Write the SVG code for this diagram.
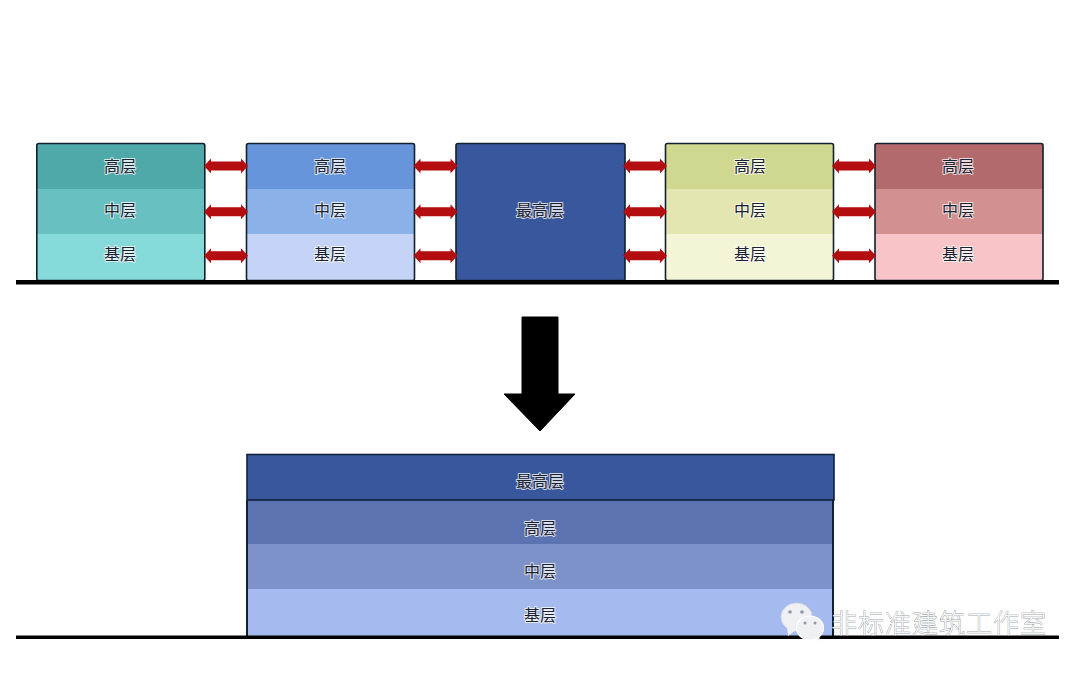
<svg xmlns="http://www.w3.org/2000/svg" width="1080" height="673" viewBox="0 0 1080 673">
<style>
.t{font-family:"Liberation Sans","Noto Sans CJK SC",sans-serif;font-size:16px;text-anchor:middle;fill:#1a2230;stroke:#fff;stroke-opacity:.75;stroke-width:2px;stroke-linejoin:round;paint-order:stroke}
.box{fill:none;stroke:#10202c;stroke-width:1.6}
.g{fill:#000}
.w{font-family:"Noto Sans CJK SC",sans-serif;font-size:26px;font-weight:300;fill:#f4f6f8;stroke:#7d838b;stroke-width:.6px;paint-order:stroke;letter-spacing:1px}
</style>
<defs>
<path id="dbl" d="M0 0l7-7.500v3h30v-3l7 7.500-7 7.500v-3h-30v3z" fill="#b40d10"/>
</defs>
<rect width="1080" height="673" fill="#fff"/>
<g id="stack-teal">
<rect x="37" y="143.500" width="168" height="46" fill="#4fa9a9"/><rect x="37" y="189" width="168" height="45" fill="#69c0c1"/><rect x="37" y="234" width="168" height="46" fill="#86dada"/>
<rect class="box" x="36.800" y="143.500" width="168" height="137" rx="2"/>
<text class="t" x="120" y="172">高层</text><text class="t" x="120" y="216">中层</text><text class="t" x="120" y="259.500">基层</text>
</g>
<g id="stack-blue">
<rect x="247" y="143.500" width="168" height="46" fill="#6695dc"/><rect x="247" y="189" width="168" height="45" fill="#8ab1e8"/><rect x="247" y="234" width="168" height="46" fill="#c5d3f6"/>
<rect class="box" x="246.500" y="143.500" width="168" height="137" rx="2"/>
<text class="t" x="330" y="172">高层</text><text class="t" x="330" y="216">中层</text><text class="t" x="330" y="259.500">基层</text>
</g>
<g id="stack-top">
<rect x="456" y="143.500" width="169" height="137" fill="#39579d" stroke="#10202c" stroke-width="1.600" rx="2"/>
<text class="t" x="540" y="216">最高层</text>
</g>
<g id="stack-olive">
<rect x="666" y="143.500" width="168" height="46" fill="#d0d78f"/><rect x="666" y="189" width="168" height="45" fill="#e3e6b0"/><rect x="666" y="234" width="168" height="46" fill="#f3f5d6"/>
<rect class="box" x="665.500" y="143.500" width="168" height="137" rx="2"/>
<text class="t" x="750" y="172">高层</text><text class="t" x="750" y="216">中层</text><text class="t" x="750" y="259.500">基层</text>
</g>
<g id="stack-red">
<rect x="875" y="143.500" width="168" height="46" fill="#b26a6c"/><rect x="875" y="189" width="168" height="45" fill="#d39091"/><rect x="875" y="234" width="168" height="46" fill="#f8c4c8"/>
<rect class="box" x="875" y="143.500" width="168" height="137" rx="2"/>
<text class="t" x="958" y="172">高层</text><text class="t" x="958" y="216">中层</text><text class="t" x="958" y="259.500">基层</text>
</g>
<g id="merged">
<rect x="247" y="500" width="586" height="45" fill="#5b73b0"/><rect x="247" y="544" width="586" height="45" fill="#7c92c8"/><rect x="247" y="589" width="586" height="47" fill="#a5baee"/>
<rect x="247" y="454.500" width="587" height="45.500" fill="#39579d" stroke="#10203c" stroke-width="1.600"/>
<path d="M247 500v136M833 500v136" fill="none" stroke="#10202c" stroke-width="2"/>
<text class="t" x="540" y="487">最高层</text><text class="t" x="540" y="533.500">高层</text><text class="t" x="540" y="577">中层</text><text class="t" x="540" y="620.500">基层</text>
</g>
<g id="connectors">
<use href="#dbl" x="204" y="166"/><use href="#dbl" x="204" y="211.700"/><use href="#dbl" x="204" y="255.700"/>
<use href="#dbl" x="413.500" y="166"/><use href="#dbl" x="413.500" y="211.700"/><use href="#dbl" x="413.500" y="255.700"/>
<use href="#dbl" x="623" y="166"/><use href="#dbl" x="623" y="211.700"/><use href="#dbl" x="623" y="255.700"/>
<use href="#dbl" x="832" y="166"/><use href="#dbl" x="832" y="211.700"/><use href="#dbl" x="832" y="255.700"/>
</g>
<g id="ground">
<rect class="g" x="16" y="280" width="1043" height="4.500"/>
<rect class="g" x="16" y="635.500" width="1043" height="3.500"/>
</g>
<polygon id="down-arrow" points="522,317 558,317 558,394 575,394 540,431 504,394 522,394" stroke="#000" stroke-width="1" stroke-linejoin="round"/>
<g id="watermark">
<ellipse cx="796.500" cy="617" rx="15.500" ry="14" fill="#eef0f4" stroke="#d5d9df" stroke-width=".6"/>
<path d="M787 627l1 9 8-6z" fill="#eef0f4"/>
<path d="M814 637l6 4-1-6z" fill="#e2e5ea"/>
<ellipse cx="810" cy="628" rx="13.500" ry="12" fill="#eef0f4" stroke="#fff" stroke-width="1.200"/>
<circle cx="790" cy="612" r="1.800" fill="#8f98a4"/><circle cx="802" cy="612" r="1.800" fill="#8f98a4"/>
<circle cx="805" cy="623" r="1.500" fill="#8f98a4"/><circle cx="815" cy="623" r="1.500" fill="#8f98a4"/>
<text class="w" x="831" y="633">非标准建筑工作室</text>
</g>
</svg>
